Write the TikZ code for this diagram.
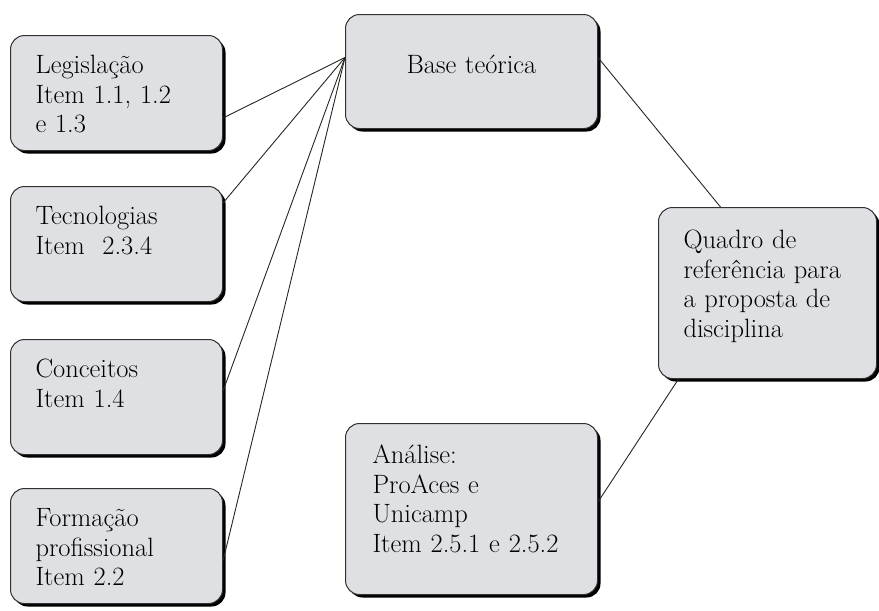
\documentclass[tikz,border=0pt]{standalone}
\usepackage{fontspec}
\usetikzlibrary{positioning, shadows}
\definecolor{boxfill}{RGB}{223,224,227}
\definecolor{boxline}{RGB}{50,50,50}

\begin{document}
\begin{tikzpicture}[
  box/.style={draw=boxline, line width=1pt, fill=boxfill, rounded corners=14pt,
    inner xsep=25pt, inner ysep=0pt, align=left,
    font=\fontsize{26.5}{29.5}\selectfont,
    drop shadow={shadow xshift=3pt, shadow yshift=-3pt, fill=black, opacity=1}},
  leftbox/.style={box, text width=162pt, text height=38pt, text depth=77pt},
  basebox/.style={box, align=center, text width=202pt, text height=59pt, text depth=55pt},
  anabox/.style={box, inner xsep=27pt, text width=198pt, text height=40pt, text depth=131pt},
  quadbox/.style={box, text width=168pt, text height=41pt, text depth=130pt},
  link/.style={draw=black!85, line width=0.9pt}]
  \useasboundingbox (0pt,0pt) rectangle (879pt,-611pt);

  \node[leftbox, anchor=north west] (legis) at (10pt,-35pt) {Legislação\\Item 1.1, 1.2\\e 1.3};
  \node[leftbox, below=35pt of legis] (tecno) {Tecnologias\\Item~~2.3.4};
  \node[leftbox, below=37pt of tecno] (conc) {Conceitos\\Item 1.4};
  \node[leftbox, below=33pt of conc] (form) {Formação\\profissional\\Item 2.2};
  \node[basebox, anchor=north west] (base) at (345pt,-14pt) {Base teórica};
  \node[anabox, below=294pt of base] (analise) {Análise:\\ProAces e\\Unicamp\\Item 2.5.1 e 2.5.2};
  \node[quadbox, anchor=north west] (quadro) at (658pt,-207pt) {Quadro de\\referência para\\a proposta de\\disciplina};

  \coordinate (hub) at ([yshift=14pt]base.west);
  \draw[link] ([yshift=-25pt]legis.east) -- (hub);
  \draw[link] ([yshift=41pt]tecno.east) -- (hub);
  \draw[link] ([yshift=6pt]conc.east) -- (hub);
  \draw[link] ([yshift=-15pt]form.east) -- (hub);
  \draw[link] ([yshift=14pt]base.east) -- ([xshift=-47pt]quadro.north);
  \draw[link] ([yshift=7pt]analise.east) -- ([xshift=-89pt]quadro.south);
\end{tikzpicture}
\end{document}
